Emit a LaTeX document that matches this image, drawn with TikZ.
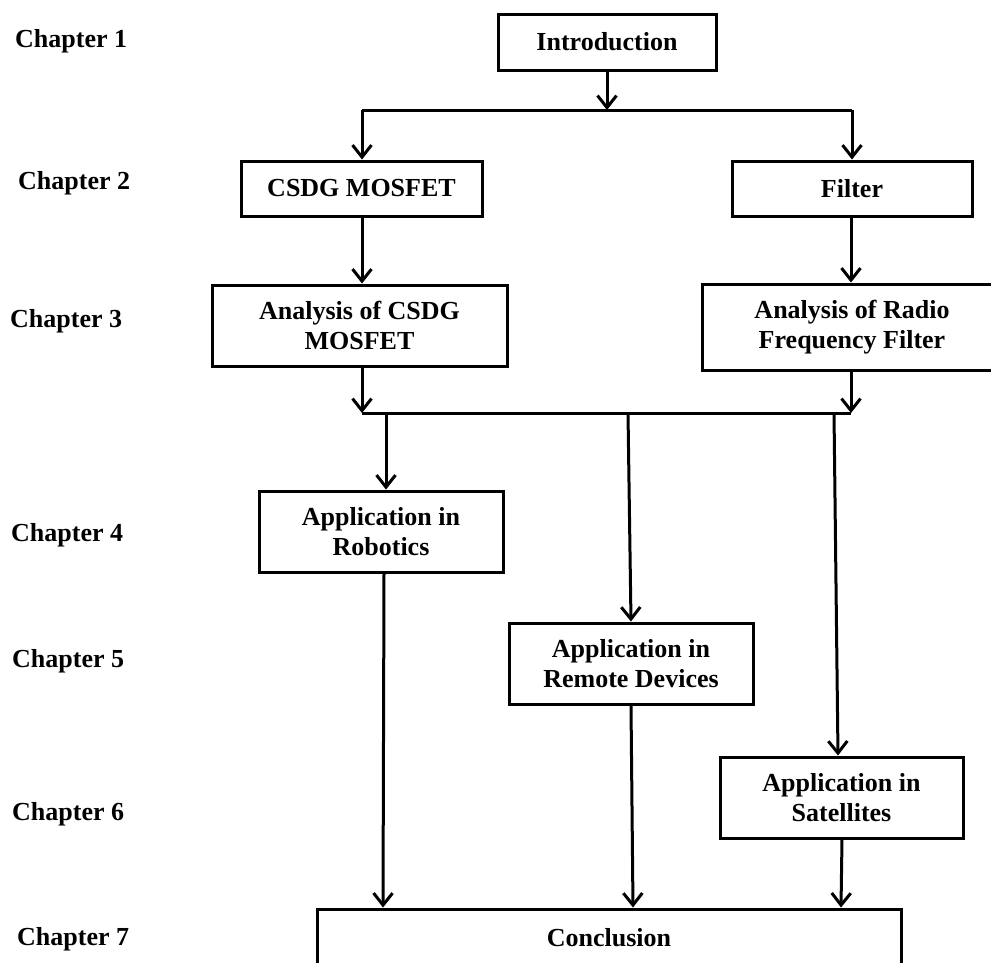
\documentclass[tikz,border=0pt]{standalone}
\usepackage{fontspec}
\setmainfont{Liberation Serif}
\usetikzlibrary{arrows.meta}
\begin{document}
\begin{tikzpicture}[x=1pt,y=-1pt,
  txt/.style={font=\bfseries\fontsize{26}{30}\selectfont},
  box/.style={txt, draw, line width=3pt, inner sep=0pt, align=center, fill=white},
  chap/.style={txt, anchor=west, inner sep=0pt},
  ln/.style={line width=3pt},
  arr/.style={line width=3pt, -{Straight Barb[length=12pt,width=19pt]}}]
\useasboundingbox (0,0) rectangle (991,962);
\fill[white] (0,0) rectangle (991,962);

% chapter labels
\node[chap] (ch1) at (15,41)  {Chapter 1};
\node[chap] (ch2) at (18,183) {Chapter 2};
\node[chap] (ch3) at (10,321) {Chapter 3};
\node[chap] (ch4) at (11,535) {Chapter 4};
\node[chap] (ch5) at (12,661) {Chapter 5};
\node[chap] (ch6) at (12,814) {Chapter 6};
\node[chap] (ch7) at (17,939) {Chapter 7};

% boxes
\node[box, minimum width=218, minimum height=56] (intro)  at (607,42)    {\raisebox{2pt}{Introduction}};
\node[box, minimum width=241, minimum height=55] (csdg)   at (361.5,188.5) {CSDG MOSFET};
\node[box, minimum width=240, minimum height=55] (filter) at (852,188.5) {Filter};
\node[box, minimum width=295, minimum height=81] (acsdg)  at (359.5,325.5) {Analysis of CSDG\\MOSFET};
\node[box, minimum width=300, minimum height=86] (aradio) at (852,327)   {Analysis of Radio\\Frequency Filter};
\node[box, minimum width=244, minimum height=81] (rob)    at (381,531.5) {Application in\\Robotics};
\node[box, minimum width=244, minimum height=81] (rem)    at (631,663.5) {Application in\\Remote Devices};
\node[box, minimum width=243, minimum height=81] (sat)    at (841.5,797.5) {Application in\\Satellites};
\node[box, minimum width=584, minimum height=60] (conc)   at (609,939)   {\raisebox{4pt}{Conclusion}};

% junction points
\coordinate (j1)  at (607,110);
\coordinate (j1l) at (362,110);
\coordinate (j1r) at (852,110);
\coordinate (j2l) at (362,413);
\coordinate (j2r) at (851,413);
\coordinate (d1)  at (386,413);
\coordinate (d2)  at (628,413);
\coordinate (d3)  at (834,413);
\coordinate (t3)  at (838,0);
\coordinate (b1)  at (384,0);
\coordinate (e1)  at (383,0);
\coordinate (b2)  at (631,0);
\coordinate (e2)  at (633,0);
\coordinate (b3)  at (842,0);
\coordinate (e3)  at (841,0);

% connectors
\draw[arr] (intro.south) -- (j1);
\draw[ln] (j1l) -- (j1r);
\draw[arr] (j1l) -- (csdg.north -| j1l);
\draw[arr] (j1r) -- (filter.north -| j1r);
\draw[arr] (csdg.south -| j1l) -- (acsdg.north -| j1l);
\draw[arr] (filter.south -| j2r) -- (aradio.north -| j2r);
\draw[arr] (acsdg.south -| j2l) -- (j2l);
\draw[arr] (aradio.south -| j2r) -- (j2r);
\draw[ln] (j2l) -- (j2r);
\draw[arr] (d1) -- (rob.north -| d1);
\draw[arr] (d2) -- (rem.north);
\draw[arr] (d3) -- (sat.north -| t3);
\draw[arr] (rob.south -| b1) -- (conc.north -| e1);
\draw[arr] (rem.south -| b2) -- (conc.north -| e2);
\draw[arr] (sat.south -| b3) -- (conc.north -| e3);
\end{tikzpicture}
\end{document}
